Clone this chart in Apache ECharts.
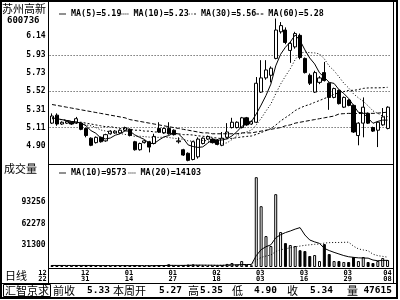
<!DOCTYPE html>
<html><head><meta charset="utf-8">
<script src="https://cdn.jsdelivr.net/npm/echarts@6/dist/echarts.min.js"></script>
<style>html,body{margin:0;padding:0;background:#fff}#c{width:400px;height:300px}</style>
</head><body><div id="c"></div>
<script>
const stockName = '苏州高新';
const stockCode = '600736';
const volumeTitle = '成交量';
const periodTitle = '日线';
const softwareName = '汇智京求';

const opens = [5.16,5.25,5.15,5.16,5.17,5.16,5.16,5.10,4.99,4.94,
  5.00,4.96,5.04,5.05,5.05,5.08,5.09,4.95,4.86,4.94,
  4.95,4.93,5.10,5.05,5.10,5.08,4.95,4.86,4.82,4.75,
  4.78,4.93,4.98,4.98,4.97,4.91,5.00,5.11,5.11,5.11,
  5.22,5.15,5.17,5.51,5.67,5.70,5.89,6.19,6.21,5.98,
  6.02,6.15,5.89,5.70,5.51,5.62,5.73,5.61,5.45,5.53,
  5.34,5.42,5.36,5.02,5.16,5.27,5.11,5.08,5.14,5.10];
const closes = [5.24,5.15,5.17,5.18,5.15,5.21,5.09,5.02,4.91,5.00,
  4.95,5.03,5.07,5.07,5.08,5.11,5.02,4.86,4.93,4.96,
  4.89,5.01,5.06,5.10,5.04,5.03,4.96,4.80,4.74,4.95,
  4.98,4.99,5.01,4.94,4.92,4.99,5.06,5.17,5.17,5.22,
  5.14,5.18,5.61,5.67,5.76,5.78,6.21,6.26,6.07,6.06,
  6.17,5.90,5.73,5.61,5.73,5.67,5.64,5.45,5.55,5.38,
  5.45,5.36,5.06,5.16,5.34,5.16,5.07,5.17,5.23,5.34];
const lows = [5.15,5.13,5.14,5.15,5.14,5.15,5.08,5.00,4.90,4.93,
  4.94,4.95,5.03,5.04,5.04,5.07,5.01,4.85,4.85,4.93,
  4.83,4.92,5.05,5.04,5.03,5.02,4.93,4.79,4.73,4.74,
  4.76,4.92,4.97,4.93,4.91,4.90,4.99,5.10,5.10,5.10,
  5.13,5.14,5.16,5.50,5.65,5.62,5.88,6.17,6.05,5.84,
  6.00,5.88,5.72,5.59,5.50,5.60,5.63,5.31,5.44,5.37,
  5.33,5.35,5.05,4.91,5.00,5.15,5.06,4.89,5.13,5.09];
const highs = [5.27,5.27,5.18,5.19,5.18,5.23,5.17,5.11,5.00,5.01,
  5.01,5.04,5.08,5.08,5.09,5.12,5.10,4.96,4.94,4.97,
  4.96,5.04,5.17,5.11,5.17,5.09,5.00,4.87,4.83,4.96,
  5.00,5.00,5.02,4.99,4.98,5.06,5.16,5.22,5.18,5.23,
  5.23,5.19,5.68,5.87,5.87,5.80,6.34,6.30,6.24,6.08,
  6.19,6.17,5.90,5.72,5.75,5.69,5.85,5.62,5.56,5.54,
  5.46,5.43,5.37,5.17,5.45,5.28,5.12,5.18,5.33,5.35];
const volumes = [2800,2100,1600,1500,1700,2300,2000,2400,2900,1900,
  1800,2200,1600,1500,1700,2100,2000,2600,2300,1400,
  1900,2400,2800,1800,3900,2200,1500,2700,3500,3800,
  2500,2000,1600,1900,2100,2600,4400,5700,3600,8500,
  3300,2400,128500,87000,44200,30000,104200,50000,34200,31400,
  30000,24000,22800,15700,17100,8500,32800,18500,8500,8500,
  7100,7100,14300,8500,14300,7100,5700,8500,12800,10000];
const ma5 = [5.22,5.21,5.20,5.19,5.178,5.172,5.160,5.130,5.076,5.046,
  4.994,4.982,4.992,5.024,5.040,5.072,5.070,5.028,5.000,4.976,
  4.932,4.930,4.970,5.004,5.020,5.048,5.038,4.986,4.914,4.896,
  4.886,4.892,4.934,4.974,4.968,4.970,4.984,5.016,5.062,5.122,
  5.152,5.176,5.264,5.364,5.472,5.600,5.806,5.936,6.016,6.076,
  6.154,6.092,5.986,5.894,5.828,5.728,5.676,5.620,5.608,5.538,
  5.494,5.438,5.360,5.282,5.274,5.216,5.158,5.180,5.194,5.194];
const ma10 = [5.22,5.21,5.20,5.19,5.18,5.17,5.16,5.14,5.13,5.112,
  5.083,5.071,5.061,5.050,5.043,5.033,5.026,5.010,5.012,5.008,
  5.002,5.000,4.999,5.002,4.998,4.990,4.984,4.978,4.959,4.958,
  4.967,4.965,4.960,4.944,4.932,4.928,4.938,4.975,5.018,5.045,
  5.061,5.080,5.140,5.213,5.297,5.376,5.491,5.600,5.690,5.774,
  5.877,5.949,5.961,5.955,5.952,5.941,5.884,5.803,5.751,5.683,
  5.611,5.557,5.490,5.445,5.406,5.355,5.298,5.270,5.238,5.234];
const ma30 = [5.21,5.20,5.20,5.19,5.18,5.17,5.17,5.16,5.15,5.14,
  5.13,5.12,5.12,5.11,5.10,5.10,5.09,5.08,5.08,5.07,
  5.07,5.06,5.06,5.05,5.05,5.04,5.04,5.03,5.03,5.026,
  5.017,5.012,5.007,4.999,4.991,4.984,4.983,4.988,4.996,5.004,
  5.010,5.015,5.033,5.053,5.076,5.098,5.138,5.184,5.222,5.259,
  5.302,5.331,5.354,5.371,5.394,5.415,5.438,5.459,5.486,5.501,
  5.516,5.529,5.530,5.538,5.552,5.557,5.558,5.558,5.560,5.564];
const ma60 = [5.37,5.36,5.35,5.34,5.33,5.32,5.31,5.30,5.29,5.28,
  5.27,5.26,5.25,5.24,5.23,5.22,5.20,5.19,5.18,5.17,
  5.16,5.15,5.14,5.13,5.12,5.11,5.10,5.09,5.08,5.07,
  5.06,5.05,5.05,5.04,5.04,5.04,5.04,5.04,5.04,5.05,
  5.05,5.05,5.06,5.07,5.08,5.09,5.10,5.11,5.13,5.14,
  5.16,5.17,5.18,5.19,5.20,5.21,5.22,5.23,5.24,5.263,
  5.267,5.270,5.269,5.268,5.271,5.271,5.270,5.273,5.278,5.284];
const volMa10 = [2200,2200,2200,2200,2200,2200,2200,2200,2200,2120,
  2020,2030,2030,2030,2030,2010,2010,2030,1970,1920,
  1930,1950,2070,2100,2320,2330,2280,2290,2410,2650,
  2710,2670,2550,2560,2380,2420,2710,3010,3020,3490,
  3570,3610,16300,24810,29020,31760,41740,46170,49230,51520,
  54190,56350,45780,38650,35940,33790,26650,23500,20930,18640,
  16350,14660,13810,13090,12810,12670,9960,8960,9390,9573];
const volMa20 = [2100,2100,2100,2100,2100,2100,2100,2100,2100,2100,
  2100,2100,2100,2100,2100,2100,2100,2100,2100,2020,
  1980,1990,2050,2070,2180,2170,2150,2160,2190,2290,
  2320,2310,2310,2330,2350,2380,2500,2650,2720,3070,
  3140,3140,9430,13690,15700,17090,22230,24590,26130,27510,
  28880,29980,31040,31730,32480,32780,34200,34840,35080,35080,
  35270,35510,29800,25870,24380,23230,18310,16230,15160,14103];

const priceTicks = [4.90, 5.11, 5.31, 5.52, 5.73, 5.93, 6.14];
const priceGridLines = [5.11, 5.52, 5.93];
const volTicks = [31300, 62278, 93256];
const dateTickBars = [0, 6, 15, 24, 33, 42, 51, 60, 69];
const dateTickLabels = ['12\n22', '12\n31', '01\n14', '01\n27', '02\n18', '03\n03', '03\n16', '03\n29', '04\n08'];
const statusLabels = ['前收', '本周开', '高', '低', '收', '量'];
const statusValues = ['5.33', '5.27', '5.35', '4.90', '5.34', '47615'];

const MONO = '"DejaVu Sans Mono", monospace';
const CJK = '"Noto Sans CJK SC", sans-serif';
const cats = closes.map((_, i) => String(i));
const candleData = closes.map((c, i) => [opens[i], c, lows[i], highs[i]]);
const volData = volumes.map((v, i) => ({
  value: v,
  itemStyle: closes[i] >= opens[i]
    ? { color: '#fff', borderColor: '#000', borderWidth: 1 }
    : { color: '#000', borderColor: '#000', borderWidth: 1 }
}));
const nm = {
  ma5: 'MA(5)=' + ma5[ma5.length - 1].toFixed(2),
  ma10: 'MA(10)=' + ma10[ma10.length - 1].toFixed(2),
  ma30: 'MA(30)=' + ma30[ma30.length - 1].toFixed(2),
  ma60: 'MA(60)=' + ma60[ma60.length - 1].toFixed(2),
  v10: 'MA(10)=' + volMa10[volMa10.length - 1],
  v20: 'MA(20)=' + volMa20[volMa20.length - 1]
};
const ICON_SOLID = 'path://M0,0h8v1h-8z';
const ICON_DOT = 'path://M0,0h1v1h-1zM2,0h1v1h-1zM4,0h1v1h-1zM6,0h1v1h-1z';
const ICON_SPARSE = 'path://M0,0h1v1h-1zM3,0h1v1h-1zM6,0h2v1h-2z';
const ICON_DASH = 'path://M0,0h3v1h-3zM5,0h3v1h-3z';

function maLine(name, data, type, xi, yi) {
  return { type: 'line', name, data, xAxisIndex: xi, yAxisIndex: yi, symbol: 'none', showSymbol: false,
    lineStyle: { color: '#000', width: 1, type }, itemStyle: { color: '#000' }, z: 4, silent: true };
}
const dateFont = { fontFamily: MONO, fontWeight: 'bold', fontSize: 7, lineHeight: 5.5, color: '#000' };
const dateRich = {
  f: Object.assign({ padding: [0, 19, 0, 0] }, dateFont),
  m: Object.assign({ padding: [0, 0, 0, 8] }, dateFont),
  e: Object.assign({}, dateFont)
};

const L = (x1, y1, x2, y2) => ({ type: 'line', shape: { x1, y1, x2, y2 }, style: { stroke: '#000', lineWidth: 1 }, silent: true });
const T = (text, x, y, font, align) => ({ type: 'text', x, y, silent: true,
  style: { text, font, fill: '#000', align: align || 'left', verticalAlign: 'middle' } });
const statusLabelX = [53, 113, 188, 232, 287, 347];
const statusValueX = [110, 182, 223, 277, 333, 392];
const graphics = [
  { type: 'rect', shape: { x: 1, y: 1, width: 396, height: 297 }, style: { fill: 'none', stroke: '#000', lineWidth: 2 }, silent: true },
  L(48.5, 2, 48.5, 283), L(393.5, 2, 393.5, 283),
  L(48, 164.5, 393, 164.5), L(48, 268.5, 393, 268.5), L(1, 283.5, 397, 283.5),
  { type: 'rect', shape: { x: 3.5, y: 284.5, width: 47, height: 12 }, style: { fill: 'none', stroke: '#000', lineWidth: 1 }, silent: true },
  T(stockName, 2, 9, '11px ' + CJK),
  T(stockCode, 7, 21, 'bold 9px ' + MONO),
  T(volumeTitle, 4, 169, '11px ' + CJK),
  T(periodTitle, 5, 276, '11px ' + CJK),
  T(softwareName, 5, 290.5, '11px ' + CJK)
];
statusLabels.forEach((s, i) => graphics.push(T(s, statusLabelX[i], 290.5, '11px ' + CJK)));
statusValues.forEach((s, i) => graphics.push(T(s, statusValueX[i], 290.5, 'bold 9.5px ' + MONO, 'right')));

const legendText = { fontFamily: MONO, fontWeight: 'bold', fontSize: 8.4, color: '#000' };
const axisOff = { axisLine: { show: false }, axisTick: { show: false }, splitLine: { show: false } };
const option = {
  animation: false,
  backgroundColor: '#fff',
  grid: [
    { left: 49.6, right: 10, top: 5, height: 159 },
    { left: 49.6, right: 10, top: 164, height: 103 }
  ],
  legend: [
    { data: [{ name: nm.ma5, icon: ICON_SOLID }, { name: nm.ma10, icon: ICON_DOT }, { name: nm.ma30, icon: ICON_SPARSE }, { name: nm.ma60, icon: ICON_DASH }],
      left: 59, top: 10, padding: 0, itemWidth: 7, itemHeight: 1, itemGap: 0,
      selectedMode: false, textStyle: legendText },
    { data: [{ name: nm.v10, icon: ICON_SOLID }, { name: nm.v20, icon: ICON_DOT }],
      left: 59, top: 169, padding: 0, itemWidth: 7, itemHeight: 1, itemGap: 2,
      selectedMode: false, textStyle: legendText }
  ],
  xAxis: [
    Object.assign({ type: 'category', data: cats, gridIndex: 0, boundaryGap: true, axisLabel: { show: false } }, axisOff),
    Object.assign({ type: 'category', data: cats, gridIndex: 1, boundaryGap: true,
      axisLabel: { show: true, margin: 3.5, interval: (idx) => dateTickBars.includes(idx), rich: dateRich,
        formatter: (v) => {
          const k = dateTickBars.indexOf(Number(v));
          if (k < 0) return '';
          const key = k === 0 ? 'f' : (k === dateTickBars.length - 1 ? 'e' : 'm');
          return dateTickLabels[k].split('\n').map(s => '{' + key + '|' + s + '}').join('\n');
        } } }, axisOff)
  ],
  yAxis: [
    Object.assign({ type: 'value', gridIndex: 0, min: 4.699, max: 6.4925,
      axisLabel: { customValues: priceTicks, formatter: v => v.toFixed(2), fontFamily: MONO, fontWeight: 'bold', fontSize: 8, color: '#000', margin: 4 } }, axisOff),
    Object.assign({ type: 'value', gridIndex: 1, min: 0, max: 147360,
      axisLabel: { customValues: volTicks, formatter: v => String(v), fontFamily: MONO, fontWeight: 'bold', fontSize: 8, color: '#000', margin: 4 } }, axisOff)
  ],
  graphic: graphics,
  series: [
    { type: 'candlestick', name: 'K', data: candleData, xAxisIndex: 0, yAxisIndex: 0, barWidth: 3.6, z: 3, silent: true,
      itemStyle: { color: '#fff', color0: '#000', borderColor: '#000', borderColor0: '#000', borderWidth: 1 },
      markLine: { silent: true, symbol: ['none', 'none'], label: { show: false }, z: 1,
        lineStyle: { type: [1, 2], color: '#333', width: 1 },
        data: priceGridLines.map(v => ({ yAxis: v })) } },
    maLine(nm.ma5, ma5, 'solid', 0, 0),
    maLine(nm.ma10, ma10, [1, 2], 0, 0),
    maLine(nm.ma30, ma30, [2, 2], 0, 0),
    maLine(nm.ma60, ma60, [4, 2], 0, 0),
    { type: 'bar', name: 'VOL', data: volData, xAxisIndex: 1, yAxisIndex: 1, barWidth: 3, z: 3, silent: true },
    maLine(nm.v10, volMa10, 'solid', 1, 1),
    maLine(nm.v20, volMa20, [1, 2], 1, 1)
  ]
};
const chart = echarts.init(document.getElementById('c'), null, { renderer: 'canvas' });
chart.setOption(option);
</script></body></html>
